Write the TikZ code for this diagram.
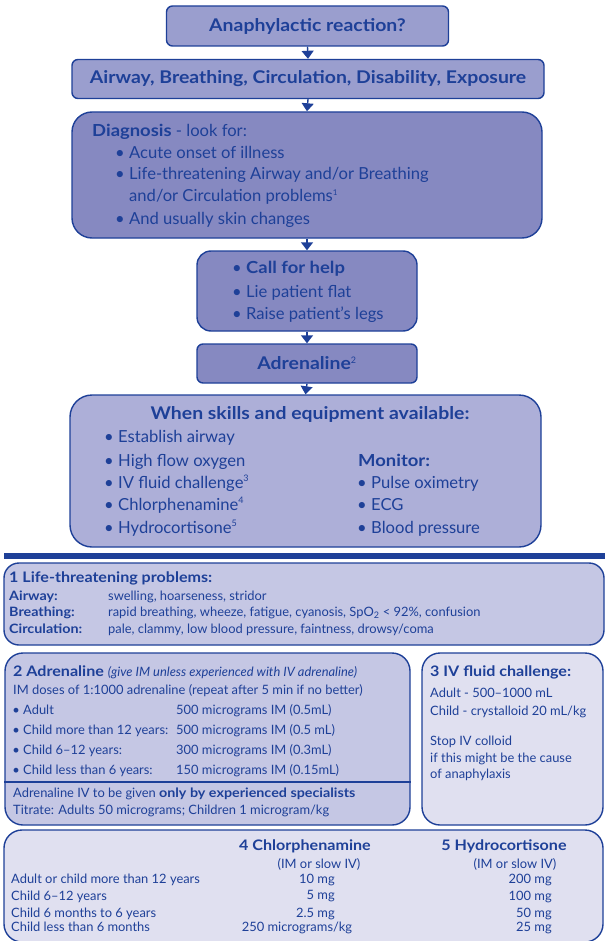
\documentclass[tikz,border=0pt]{standalone}
\usepackage{fontspec}
\setmainfont{Lato}[BoldFeatures={FakeStretch=1.11}]
\usetikzlibrary{arrows.meta}
\definecolor{navy}{HTML}{1E4098}
\definecolor{topfill}{HTML}{9A9ECE}
\definecolor{midfill}{HTML}{8689C1}
\definecolor{skillfill}{HTML}{ADAFD8}
\definecolor{notefill}{HTML}{C5C7E4}
\definecolor{palefill}{HTML}{E0E0F0}
\newcommand{\flowfont}{\fontsize{16.6}{19}\selectfont}
\newcommand{\headfont}{\fontsize{17.5}{20}\selectfont\bfseries}
\newcommand{\notefont}{\fontsize{12.9}{15}\selectfont}
\newcommand{\notehead}{\fontsize{14.5}{17}\selectfont\bfseries}
\begin{document}
\begin{tikzpicture}[x=1pt,y=-1pt,
  box/.style={draw=navy, line width=1.4pt, text=navy, inner sep=0pt},
  arr/.style={draw=navy, line width=1.4pt, -{Triangle[width=12pt,length=8pt]}},
  txt/.style={anchor=base west, inner sep=0pt, text=navy},
  txtr/.style={anchor=base east, inner sep=0pt, text=navy},
  txtc/.style={anchor=base, inner sep=0pt, text=navy},
  flow/.style={txt, font=\flowfont},
  flowdot/.style={txtr, font=\flowfont},
  note/.style={txt, font=\notefont},
  notedot/.style={txtr, font=\notefont},
  noter/.style={txtr, font=\notefont},
  notec/.style={txtc, font=\notefont}]
\useasboundingbox (0,0) rectangle (605,941);

% ---------- flow chart ----------
\node[box, fill=topfill, rounded corners=6pt, minimum width=282pt, minimum height=40pt, font=\headfont]
  (start) at (307.5,26) {Anaphylactic reaction?};
\node[box, fill=topfill, rounded corners=6pt, minimum width=472pt, minimum height=39pt, font=\headfont]
  (abcde) at (308,79) {Airway, Breathing, Circulation, Disability, Exposure};
\node[box, fill=midfill, rounded corners=20pt, minimum width=470pt, minimum height=126pt]
  (diag) at (307,175) {};
\node[box, fill=midfill, rounded corners=14pt, minimum width=220pt, minimum height=80pt]
  (help) at (307,291) {};
\node[box, fill=midfill, rounded corners=6pt, minimum width=220pt, minimum height=39pt, font=\headfont]
  (adren) at (307,363.5) {Adrenaline\textsuperscript{\normalfont\fontsize{9}{9}\selectfont 2}};
\node[box, fill=skillfill, rounded corners=22pt, minimum width=471pt, minimum height=152pt]
  (skills) at (305.5,471) {};

\draw[arr] (start.south) -- (abcde.north);
\draw[arr] (abcde.south) -- (diag.north);
\draw[arr] (diag.south) -- (help.north);
\draw[arr] (help.south) -- (adren.north);
\draw[arr] (adren.south) -- (skills.north);

% diagnosis
\node[flow] (dg0) at (92,137) {\textbf{Diagnosis} - look for:};
\node[flowdot] (dgb1) at (125,159) {•};
\node[flow] (dg1) at (129,159) {Acute onset of illness};
\node[flowdot] (dgb2) at (125,180) {•};
\node[flow] (dg2) at (129,180) {Life-threatening Airway and/or Breathing};
\node[flow] (dg3) at (129,202) {and/or Circulation problems\textsuperscript{\fontsize{8}{8}\selectfont 1}};
\node[flowdot] (dgb4) at (125,225) {•};
\node[flow] (dg4) at (129,225) {And usually skin changes};

% first actions
\node[flowdot] (hb1) at (242,273) {•};
\node[flow, font=\flowfont\bfseries] (h1) at (246,273) {Call for help};
\node[flowdot] (hb2) at (242,297) {•};
\node[flow] (h2) at (246,297) {Lie patient flat};
\node[flowdot] (hb3) at (242,319) {•};
\node[flow] (h3) at (246,319) {Raise patient’s legs};

% skills and equipment
\node[txtc, font=\headfont] (sk0) at (310,419) {When skills and equipment available:};
\node[flowdot] (skb1) at (114,442) {•};
\node[flow] (sk1) at (118,442) {Establish airway};
\node[flowdot] (skb2) at (114,466) {•};
\node[flow] (sk2) at (118,466) {High flow oxygen};
\node[flowdot] (skb3) at (114,488) {•};
\node[flow] (sk3) at (118,488) {IV fluid challenge\textsuperscript{\fontsize{9}{9}\selectfont 3}};
\node[flowdot] (skb4) at (114,510) {•};
\node[flow] (sk4) at (118,510) {Chlorphenamine\textsuperscript{\fontsize{9}{9}\selectfont 4}};
\node[flowdot] (skb5) at (114,533) {•};
\node[flow] (sk5) at (118,533) {Hydrocortisone\textsuperscript{\fontsize{9}{9}\selectfont 5}};
\node[flow, font=\flowfont\bfseries] (mo0) at (358,466) {Monitor:};
\node[flowdot] (mob1) at (367,488) {•};
\node[flow] (mo1) at (371,488) {Pulse oximetry};
\node[flowdot] (mob2) at (367,510) {•};
\node[flow] (mo2) at (371,510) {ECG};
\node[flowdot] (mob3) at (367,533) {•};
\node[flow] (mo3) at (371,533) {Blood pressure};

% ---------- separator ----------
\fill[navy] (4,553) rectangle (605,559);

% ---------- note 1 ----------
\node[box, fill=notefill, rounded corners=15pt, minimum width=600pt, minimum height=82pt]
  (n1) at (304,604) {};
\node[txt, font=\notehead] (n1h) at (9,582) {1 Life-threatening problems:};
\node[note, font=\notefont\bfseries] (n1a) at (9,600) {Airway:};
\node[note] (n1av) at (108,600) {swelling, hoarseness, stridor};
\node[note, font=\notefont\bfseries] (n1b) at (9,616) {Breathing:};
\node[note] (n1bv) at (108,616) {rapid breathing, wheeze, fatigue, cyanosis, SpO\textsubscript{2} {<} 92\%, confusion};
\node[note, font=\notefont\bfseries] (n1c) at (9,633) {Circulation:};
\node[note] (n1cv) at (108,633) {pale, clammy, low blood pressure, faintness, drowsy/coma};

% ---------- note 2 ----------
\node[box, fill=notefill, rounded corners=18pt, minimum width=405pt, minimum height=172pt]
  (n2) at (207.5,739) {};
\draw[navy, line width=1.4pt] (n2.west |- 0,782) -- (n2.east |- 0,782);
\node[txt, font=\notehead] (n2h) at (13,676)
  {2 Adrenaline {\mdseries\itshape\notefont(give IM unless experienced with IV adrenaline)}};
\node[note] (n2i) at (13,694) {IM doses of 1:1000 adrenaline (repeat after 5 min if no better)};
\node[notedot] (n2b1) at (20,714) {•};
\node[note] (n2r1) at (23,714) {Adult};
\node[note] (n2d1) at (176,714) {500 micrograms IM (0.5mL)};
\node[notedot] (n2b2) at (20,734) {•};
\node[note] (n2r2) at (23,734) {Child more than 12 years:};
\node[note] (n2d2) at (176,734) {500 micrograms IM (0.5 mL)};
\node[notedot] (n2b3) at (20,754) {•};
\node[note] (n2r3) at (23,754) {Child 6–12 years:};
\node[note] (n2d3) at (176,754) {300 micrograms IM (0.3mL)};
\node[notedot] (n2b4) at (20,774) {•};
\node[note] (n2r4) at (23,774) {Child less than 6 years:};
\node[note] (n2d4) at (176,774) {150 micrograms IM (0.15mL)};
\node[note] (n2v) at (13,797) {Adrenaline IV to be given \textbf{only by experienced specialists}};
\node[note] (n2t) at (13,814) {Titrate: Adults 50 micrograms; Children 1 microgram/kg};

% ---------- note 3 ----------
\node[box, fill=palefill, rounded corners=18pt, minimum width=181pt, minimum height=172pt]
  (n3) at (512.5,739) {};
\node[txt, font=\notehead] (n3h) at (430,676) {3 IV fluid challenge:};
\node[note] (n3a) at (430,697) {Adult - 500–1000 mL};
\node[note] (n3b) at (430,715) {Child - crystalloid 20 mL/kg};
\node[note] (n3c) at (430,745) {Stop IV colloid};
\node[note] (n3d) at (430,762) {if this might be the cause};
\node[note] (n3e) at (430,778) {of anaphylaxis};

% ---------- notes 4 and 5 ----------
\node[box, fill=palefill, rounded corners=18pt, minimum width=599pt, minimum height=112pt]
  (n4) at (303.5,886) {};
\node[txtc, font=\notehead] (n4h) at (305,850) {4 Chlorphenamine};
\node[txtc, font=\notehead] (n5h) at (504,850) {5 Hydrocortisone};
\node[notec] (n4s) at (319,868) {(IM or slow IV)};
\node[notec] (n5s) at (515,868) {(IM or slow IV)};
\node[note] (r1) at (11,883) {Adult or child more than 12 years};
\node[note] (r2) at (11,900) {Child 6–12 years};
\node[note] (r3) at (11,917) {Child 6 months to 6 years};
\node[note] (r4) at (11,931) {Child less than 6 months};
\node[noter] (c1) at (335,883) {10 mg};
\node[noter] (c2) at (335,899) {5 mg};
\node[noter] (c3) at (335,917) {2.5 mg};
\node[notec] (c4) at (297,931) {250 micrograms/kg};
\node[noter] (h1v) at (552,883) {200 mg};
\node[noter] (h2v) at (552,900) {100 mg};
\node[noter] (h3v) at (552,917) {50 mg};
\node[noter] (h4v) at (552,931) {25 mg};
\end{tikzpicture}
\end{document}
